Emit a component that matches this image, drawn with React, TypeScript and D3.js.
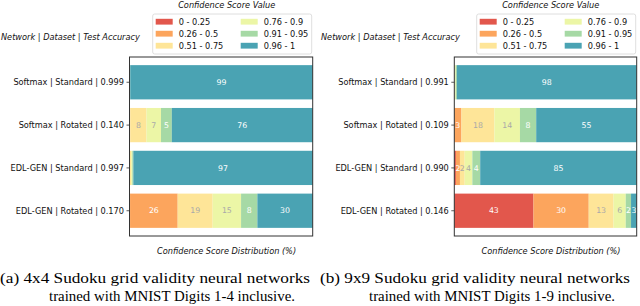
import * as d3 from "d3";

// confidence score bins + palette (Spectral-ish)
const bins = ["0 - 0.25", "0.26 - 0.5", "0.51 - 0.75", "0.76 - 0.9", "0.91 - 0.95", "0.96 - 1"];
const binColors = ["#e2574c", "#fca55d", "#fee598", "#ecf6a6", "#a6d9a5", "#4aa3b3"];
const lightBins = [2, 3]; // bins with gray value labels

const rows4x4 = [
  "Softmax | Standard | 0.999",
  "Softmax | Rotated | 0.140",
  "EDL-GEN | Standard | 0.997",
  "EDL-GEN | Rotated | 0.170",
];
const dist4x4 = [
  [0, 0, 0, 0, 0.4, 99.6],
  [0.2, 0.2, 8.9, 7.9, 5.9, 76.9],
  [0, 0, 0.9, 0.6, 0.6, 97.9],
  [0.3, 26.0, 19.1, 15.5, 8.9, 30.2],
];

const rows9x9 = [
  "Softmax | Standard | 0.991",
  "Softmax | Rotated | 0.109",
  "EDL-GEN | Standard | 0.990",
  "EDL-GEN | Rotated | 0.146",
];
const dist9x9 = [
  [0, 0, 0.2, 0.6, 0.6, 98.6],
  [0, 3.9, 18.1, 14.0, 8.9, 55.1],
  [0.9, 2.2, 2.6, 4.2, 4.3, 85.8],
  [43.4, 30.3, 13.6, 6.7, 2.9, 3.1],
];

const captionA = ["(a) 4x4 Sudoku grid validity neural networks", "trained with MNIST Digits 1-4 inclusive."];
const captionB = ["(b) 9x9 Sudoku grid validity neural networks", "trained with MNIST Digits 1-9 inclusive."];

const sans = "DejaVu Sans, sans-serif";
const fs = 8.2;

const Panel = ({ rows, dist, left, right, caption, offset }: {
  rows: string[]; dist: number[][]; left: number; right: number; caption: string[]; offset: number;
}) => {
  const top = 57, bottom = 236;
  const x = d3.scaleLinear([0, 100], [left, right]);
  const y = d3.scaleBand(d3.range(rows.length), [top, bottom]).paddingInner(0.2).paddingOuter(0.19);
  const lx = right - 160; // legend box left

  return (
    <g>
      {/* bars */}
      {dist.map((vals, i) => {
        const ends = Array.from(d3.cumsum(vals));
        return (
          <g key={i}>
            {vals.map((v, j) => {
              const x0 = x(ends[j] - v), x1 = x(ends[j]);
              if (v <= 0) return null;
              return <rect key={j} x={x0} y={y(i)} width={x1 - x0} height={y.bandwidth()} fill={binColors[j]} />;
            })}
            {vals.map((v, j) => {
              if (Math.floor(v) < 1) return null;
              const cx = (x(ends[j] - v) + x(ends[j])) / 2;
              return (
                <text key={"t" + j} x={cx} y={y(i)! + y.bandwidth() / 2} dy="0.35em" textAnchor="middle"
                  fontFamily={sans} fontSize={7.8} fill={lightBins.includes(j) ? "#a9a9a9" : "#fff"}>
                  {Math.floor(v)}
                </text>
              );
            })}
          </g>
        );
      })}
      {/* frame */}
      <rect x={left} y={top} width={right - left} height={bottom - top} fill="none" stroke="#333" strokeWidth={1} />
      {/* y ticks */}
      {rows.map((r, i) => {
        const cy = y(i)! + y.bandwidth() / 2;
        return (
          <g key={r}>
            <line x1={left - 3} x2={left} y1={cy} y2={cy} stroke="#333" strokeWidth={0.8} />
            <text x={left - 5.5} y={cy} dy="0.35em" textAnchor="end" fontFamily={sans} fontSize={fs} fill="#111">{r}</text>
          </g>
        );
      })}
      <text x={offset + 1} y={37} dy="0.35em" fontFamily={sans} fontSize={fs} fontStyle="italic" fill="#111">
        Network | Dataset | Test Accuracy
      </text>
      <text x={(left + right) / 2 + 5.5} y={251.5} dy="0.35em" textAnchor="middle" fontFamily={sans} fontSize={fs}
        fontStyle="italic" fill="#111">
        Confidence Score Distribution (%)
      </text>
      {/* legend */}
      <text x={lx + 74} y={5.5} dy="0.35em" textAnchor="middle" fontFamily={sans} fontSize={fs} fontStyle="italic" fill="#111">
        Confidence Score Value
      </text>
      <rect x={lx} y={14} width={159} height={40} rx={2} fill="#fff" fillOpacity={0.8} stroke="#d6d6d6" strokeWidth={0.8} />
      {bins.map((b, k) => {
        const col = Math.floor(k / 3), row = k % 3;
        const px = lx + 3 + col * 85, cy = 21.7 + row * 12;
        return (
          <g key={b}>
            <rect x={px} y={cy - 2.9} width={17} height={5.8} fill={binColors[k]} />
            <text x={px + 23} y={cy} dy="0.35em" fontFamily={sans} fontSize={fs} fill="#111">{b}</text>
          </g>
        );
      })}
      {/* caption */}
      <text x={offset} y={283} fontFamily="Liberation Serif, serif" fontSize={14} textLength={310}
        lengthAdjust="spacingAndGlyphs" fill="#000">{caption[0]}</text>
      <text x={offset + 49} y={301} fontFamily="Liberation Serif, serif" fontSize={14} textLength={246}
        lengthAdjust="spacingAndGlyphs" fill="#000">{caption[1]}</text>
    </g>
  );
};

export default function App() {
  return (
    <svg width={640} height={306} style={{ position: "absolute", left: 0, top: 0, background: "#fff" }}>
      <rect width={640} height={306} fill="#fff" />
      <Panel rows={rows4x4} dist={dist4x4} left={129.5} right={312.7} caption={captionA} offset={0} />
      <Panel rows={rows9x9} dist={dist9x9} left={454.3} right={636.7} caption={captionB} offset={320} />
    </svg>
  );
}
